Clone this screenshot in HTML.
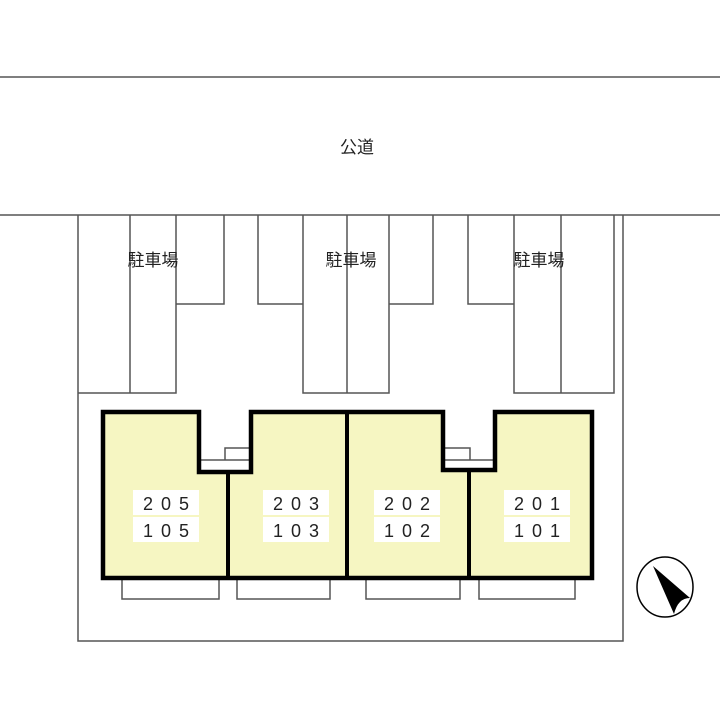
<!DOCTYPE html>
<html><head><meta charset="utf-8"><style>
body{margin:0;background:#fff}
svg{display:block}
text{font-family:"Liberation Sans","Noto Sans CJK JP",sans-serif;fill:#222}
</style></head><body>
<svg width="720" height="720" viewBox="0 0 720 720" xmlns="http://www.w3.org/2000/svg">
<g stroke="#555" stroke-width="1.5" fill="none">
<line x1="0" y1="77" x2="720" y2="77"/>
<line x1="0" y1="215" x2="720" y2="215"/>
<polyline points="78,215 78,641 623,641 623,215"/>
<polyline points="78,393 176,393 176,215"/>
<line x1="130" y1="215" x2="130" y2="393"/>
<polyline points="176,304 224,304 224,215"/>
<polyline points="258,215 258,304 303,304"/>
<polyline points="303,215 303,393 389,393 389,215"/>
<line x1="347" y1="215" x2="347" y2="393"/>
<polyline points="389,304 433,304 433,215"/>
<polyline points="468,215 468,304 514,304"/>
<polyline points="514,215 514,393 614,393 614,215"/>
<line x1="561" y1="215" x2="561" y2="393"/>
<polyline points="225,460 225,448 251,448"/>
<line x1="199" y1="460" x2="251" y2="460"/>
<polyline points="443,448 470,448 470,460"/>
<line x1="443" y1="460" x2="495" y2="460"/>
<rect x="122" y="579" width="97" height="20"/>
<rect x="237" y="579" width="93" height="20"/>
<rect x="366" y="579" width="94" height="20"/>
<rect x="479" y="579" width="96" height="20"/>
</g>
<path d="M103,412 L199,412 L199,472 L251,472 L251,412 L443,412 L443,470 L495,470 L495,412 L592,412 L592,578 L103,578 Z" fill="#f6f6c2" stroke="#000" stroke-width="4.5" stroke-linejoin="miter"/>
<g stroke="#000" stroke-width="4">
<line x1="228" y1="472" x2="228" y2="578"/>
<line x1="347" y1="412" x2="347" y2="578"/>
<line x1="469" y1="470" x2="469" y2="578"/>
</g>
<g fill="#fff">
<rect x="133" y="490" width="66" height="25"/><rect x="133" y="517" width="66" height="25"/>
<rect x="263" y="490" width="66" height="25"/><rect x="263" y="517" width="66" height="25"/>
<rect x="374" y="490" width="66" height="25"/><rect x="374" y="517" width="66" height="25"/>
<rect x="504" y="490" width="66" height="25"/><rect x="504" y="517" width="66" height="25"/>
</g>
<g font-size="18" text-anchor="middle" letter-spacing="8">
<text x="170" y="510">205</text><text x="170" y="537">105</text>
<text x="300" y="510">203</text><text x="300" y="537">103</text>
<text x="411" y="510">202</text><text x="411" y="537">102</text>
<text x="541" y="510">201</text><text x="541" y="537">101</text>
</g>
<g font-size="17" text-anchor="middle">
<text x="357" y="153">公道</text>
<text x="153" y="266">駐車場</text>
<text x="351" y="266">駐車場</text>
<text x="539" y="266">駐車場</text>
</g>
<ellipse cx="665" cy="587" rx="28" ry="30" fill="#fff" stroke="#000" stroke-width="1.5"/>
<path d="M653,566 L690,598 Q678,598 674,614 Z" fill="#000"/>
</svg>
</body></html>
